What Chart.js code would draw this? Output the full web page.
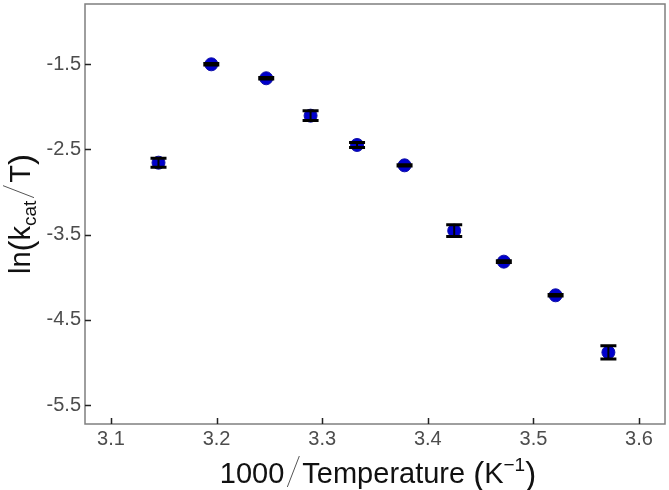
<!DOCTYPE html>
<html>
<head>
<meta charset="utf-8">
<script src="https://cdn.jsdelivr.net/npm/chart.js@4.4.1/dist/chart.umd.min.js"></script>
<style>
  html, body { margin: 0; padding: 0; background: #fff; }
  #arrhenius { display: block; }
</style>
</head>
<body>
<canvas id="arrhenius" width="669" height="490"></canvas>
<script>
// data
const invTemp = [3.145, 3.195, 3.247, 3.289, 3.333, 3.378, 3.425, 3.472, 3.521, 3.571];
const lnKcatT = [-2.655, -1.500, -1.664, -2.103, -2.447, -2.686, -3.453, -3.817, -4.212, -4.882];
const errLnK = [0.053, 0.008, 0.008, 0.058, 0.03, 0.008, 0.07, 0.01, 0.008, 0.078];

const xTicks = [3.1, 3.2, 3.3, 3.4, 3.5, 3.6];
const yTicks = [-1.5, -2.5, -3.5, -4.5, -5.5];

const FONT = "'Liberation Sans', Arial, sans-serif";

// draws a row of text pieces (plus thin plotmath-like slashes) centred on cx
function drawParts(ctx, parts, cx, baseY) {
  let total = 0;
  parts.forEach(p => {
    if (p.slash) {
      p.w = p.width;
    } else {
      ctx.font = p.font;
      p.w = ctx.measureText(p.text).width;
    }
    total += p.w;
  });
  let x = cx - total / 2;
  parts.forEach(p => {
    if (p.slash) {
      ctx.save();
      ctx.strokeStyle = "#555";
      ctx.lineWidth = 1;
      ctx.beginPath();
      ctx.moveTo(x + 3, baseY + p.below);
      ctx.lineTo(x + p.w - 3, baseY - p.above);
      ctx.stroke();
      ctx.restore();
    } else {
      ctx.font = p.font;
      ctx.fillText(p.text, x, baseY + (p.dy || 0));
    }
    x += p.w;
  });
}

const framePlugin = {
  id: "frameAndErrors",
  afterDatasetsDraw(chart) {
    const { ctx, scales: { x, y } } = chart;
    ctx.save();
    ctx.strokeStyle = "#000";
    invTemp.forEach((t, i) => {
      const px = x.getPixelForValue(t);
      const top = y.getPixelForValue(lnKcatT[i] + errLnK[i]);
      const bot = y.getPixelForValue(lnKcatT[i] - errLnK[i]);
      ctx.lineWidth = 2;
      ctx.beginPath();
      ctx.moveTo(px, top);
      ctx.lineTo(px, bot);
      ctx.stroke();
      ctx.lineWidth = 3;
      ctx.beginPath();
      ctx.moveTo(px - 8, top);
      ctx.lineTo(px + 8, top);
      ctx.moveTo(px - 8, bot);
      ctx.lineTo(px + 8, bot);
      ctx.stroke();
    });
    ctx.restore();
  },
  afterDraw(chart) {
    const { ctx, chartArea: a, scales: { x, y } } = chart;
    ctx.save();
    // box
    ctx.strokeStyle = "#7f7f7f";
    ctx.lineWidth = 1.5;
    ctx.strokeRect(a.left, a.top, a.right - a.left, a.bottom - a.top);
    // inward ticks
    ctx.strokeStyle = "#222";
    ctx.lineWidth = 1.5;
    ctx.beginPath();
    xTicks.forEach(v => {
      const px = Math.round(x.getPixelForValue(v)) + 0.5;
      ctx.moveTo(px, a.bottom);
      ctx.lineTo(px, a.bottom - 6);
    });
    yTicks.forEach(v => {
      const py = Math.round(y.getPixelForValue(v)) + 0.5;
      ctx.moveTo(a.left, py);
      ctx.lineTo(a.left + 6, py);
    });
    ctx.stroke();

    // axis titles
    ctx.fillStyle = "#111";
    ctx.textBaseline = "alphabetic";
    ctx.textAlign = "left";
    const big = "29px " + FONT;
    const paren = "33px " + FONT;
    const small = "19px " + FONT;
    drawParts(ctx, [
      { text: "1000", font: big },
      { slash: true, width: 18, below: 4, above: 27 },
      { text: "Temperature ", font: big },
      { text: "(", font: paren, dy: 2 },
      { text: "K", font: big },
      { text: "\u22121", font: small, dy: -12 },
      { text: ")", font: paren, dy: 2 }
    ], 378, 483);

    ctx.translate(30, (a.top + a.bottom) / 2);
    ctx.rotate(-Math.PI / 2);
    drawParts(ctx, [
      { text: "ln", font: big },
      { text: "(", font: paren, dy: 2 },
      { text: "k", font: big },
      { text: "cat", font: small, dy: 6 },
      { slash: true, width: 18, below: 4, above: 27 },
      { text: "T", font: big },
      { text: ")", font: paren, dy: 2 }
    ], 0, 0);
    ctx.restore();
  }
};

new Chart(document.getElementById("arrhenius"), {
  type: "scatter",
  data: {
    datasets: [{
      data: invTemp.map((t, i) => ({ x: t, y: lnKcatT[i] })),
      backgroundColor: "#0000cc",
      borderColor: "#1010a8",
      borderWidth: 1,
      pointRadius: 6.5,
      pointHoverRadius: 6.5
    }]
  },
  options: {
    responsive: false,
    animation: false,
    layout: { autoPadding: false, padding: { top: 4, right: 4, left: 0, bottom: 0 } },
    plugins: { legend: { display: false }, tooltip: { enabled: false } },
    scales: {
      x: {
        type: "linear",
        min: 3.0754,
        max: 3.6246,
        afterBuildTicks: s => { s.ticks = xTicks.map(v => ({ value: v })); },
        afterFit: s => { s.height = 66; s.paddingLeft = 0; s.paddingRight = 0; },
        grid: { display: false, drawTicks: false },
        border: { display: false },
        ticks: {
          autoSkip: false,
          maxRotation: 0,
          padding: 3,
          color: "#4d4d4d",
          font: { family: FONT, size: 20 },
          callback: v => v.toFixed(1)
        }
      },
      y: {
        type: "linear",
        min: -5.723,
        max: -0.792,
        afterBuildTicks: s => { s.ticks = yTicks.map(v => ({ value: v })); },
        afterFit: s => { s.width = 85; s.paddingTop = 0; s.paddingBottom = 0; },
        grid: { display: false, drawTicks: false },
        border: { display: false },
        ticks: {
          autoSkip: false,
          padding: 4,
          color: "#4d4d4d",
          font: { family: FONT, size: 20 },
          callback: v => v.toFixed(1)
        }
      }
    }
  },
  plugins: [framePlugin]
});
</script>
</body>
</html>
